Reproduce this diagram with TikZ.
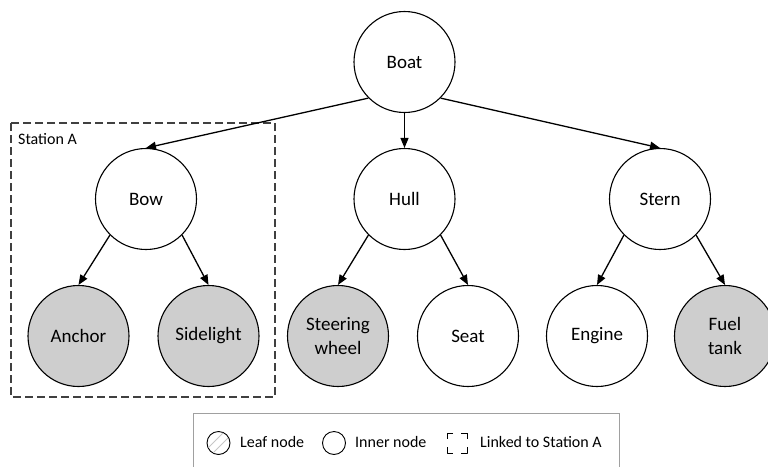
\documentclass[tikz,border=0pt]{standalone}
\usepackage{fontspec}
\setmainfont{Carlito}
\usetikzlibrary{arrows.meta}
\definecolor{leafgray}{RGB}{206,206,206}
\definecolor{framegray}{RGB}{64,64,64}
\definecolor{legendgray}{RGB}{160,160,160}
\begin{document}
\begin{tikzpicture}[x=1pt,y=-1pt,
  treenode/.style={circle,draw,line width=1.1pt,minimum size=101pt,inner sep=0pt,
    align=center,font=\fontsize{19}{23.5}\selectfont},
  leafnode/.style={treenode,fill=leafgray},
  innernode/.style={treenode,fill=white},
  link/.style={line width=1.3pt,-{Triangle[length=10pt,width=8pt]}},
  legendtext/.style={anchor=base west,inner sep=0pt,font=\fontsize{16}{19}\selectfont},
]
\useasboundingbox (0,0) rectangle (768,466);
\clip (0,0) rectangle (768,466);

% station frame
\draw[framegray,line width=1.2pt,dash pattern=on 8pt off 4pt] (11,123) rectangle (275,397);
\node[legendtext] (stationlabel) at (18,144) {Station A};

% tree
\node[innernode] (boat) at (404.5,62) {Boat};
\node[innernode] (bow) at (146,199) {Bow};
\node[innernode] (hull) at (404.5,199) {Hull};
\node[innernode] (stern) at (660,199) {Stern};
\node[leafnode] (anchor) at (78.5,336) {Anchor};
\node[leafnode] (sidelight) at (208.5,336) {Sidelight};
\node[leafnode] (steering) at (338,336) {Steering\\wheel};
\node[innernode] (seat) at (468,336) {Seat};
\node[innernode] (engine) at (597,336) {Engine};
\node[leafnode] (fuel) at (725,336) {Fuel\\tank};

\draw[link] (boat.south west) -- (bow.north);
\draw[link] (boat.south) -- (hull.north);
\draw[link] (boat.south east) -- (stern.north);
\draw[link] (bow.south west) -- (anchor.north);
\draw[link] (bow.south east) -- (sidelight.north);
\draw[link] (hull.south west) -- (steering.north);
\draw[link] (hull.south east) -- (seat.north);
\draw[link] (stern.south west) -- (engine.north);
\draw[link] (stern.south east) -- (fuel.north);

% legend
\draw[legendgray,line width=1pt] (193,413) rectangle (619,480);
\node[circle,draw,line width=0.9pt,minimum size=23pt,inner sep=0pt] (legleaf) at (218.5,443) {};
\begin{scope}
  \clip (218.5,443) circle (11pt);
  \draw[gray!45,line width=0.9pt] (206,450) -- (226,430) (211,455) -- (231,435);
\end{scope}
\node[legendtext] (legleaftext) at (240,447) {Leaf node};
\node[circle,draw,line width=0.9pt,minimum size=23pt,inner sep=0pt] (leginner) at (334,443) {};
\node[legendtext] (leginnertext) at (355,447) {Inner node};
\draw[line width=0.9pt,dash pattern=on 6pt off 8pt on 6pt off 0pt] (447,433) rectangle (467,453);
\node[legendtext] (leglinktext) at (480,447) {Linked to Station A};
\end{tikzpicture}
\end{document}
